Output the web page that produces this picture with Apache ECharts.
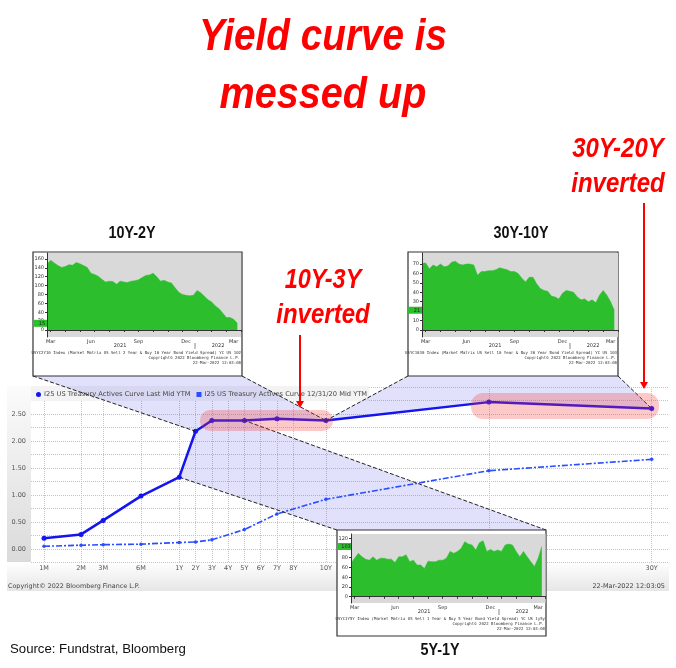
<!DOCTYPE html>
<html>
<head>
<meta charset="utf-8">
<style>
  html, body { margin: 0; padding: 0; background: #fff; }
  #main { width: 676px; height: 668px; }
</style>
<script src="https://cdn.jsdelivr.net/npm/echarts@6/dist/echarts.min.js"></script>
</head>
<body>
<div id="main"></div>
<script>
// treasury curve, main panel
const tenors = ['1M', '2M', '3M', '6M', '1Y', '2Y', '3Y', '4Y', '5Y', '6Y', '7Y', '8Y', '10Y', '20Y', '30Y']
const tenorScale = [-7.3, -5.03, -3.67, -1.35, 1, 2, 3, 4, 5, 6, 7, 8, 10, 20, 30]
const curveTenors = ['1M', '2M', '3M', '6M', '1Y', '2Y', '3Y', '5Y', '7Y', '10Y', '20Y', '30Y']
const lastMid = [0.20, 0.27, 0.53, 0.98, 1.33, 2.18, 2.38, 2.38, 2.41, 2.38, 2.72, 2.60]
const dec2020 = [0.05, 0.07, 0.08, 0.09, 0.12, 0.13, 0.17, 0.36, 0.65, 0.92, 1.45, 1.66]
const lastMidName = 'I25 US Treasury Actives Curve Last Mid YTM'
const dec2020Name = 'I25 US Treasury Actives Curve 12/31/20 Mid YTM'

// spreads in the three small charts, weekly
const weekLabels = ['', 'Mar', '', '', '', '', '', '', '', '', '', '', 'Jun', '', '', '', '', '', '', '', '', '', '', '', '', 'Sep', '', '', '', '', '', '', '', '', '', '', '', '', 'Dec', '', '', '', '', '', '', '', '', '', '', '', '', 'Mar', '', '']
const spread10y2y = [148, 157, 151, 145, 141, 143, 147, 146, 152, 149, 145, 141, 128, 125, 121, 114, 108, 110, 109, 103, 110, 108, 107, 110, 111, 113, 118, 123, 124, 128, 120, 110, 112, 108, 106, 95, 85, 80, 78, 77, 78, 89, 84, 76, 68, 63, 54, 48, 38, 28, 28, 24, 15]
const spread30y10y = [71, 71, 65, 69, 67, 70, 67, 68, 72, 73, 70, 69, 70, 70, 69, 58, 62, 62, 63, 63, 64, 66, 65, 64, 62, 62, 60, 55, 51, 56, 56, 49, 44, 42, 41, 36, 35, 33, 39, 42, 41, 40, 35, 32, 33, 30, 32, 29, 37, 42, 37, 30, 21]
const spread5y1y = [69, 79, 89, 82, 77, 75, 82, 75, 79, 79, 77, 77, 70, 82, 82, 86, 72, 75, 65, 65, 58, 73, 72, 72, 75, 75, 79, 93, 89, 93, 99, 113, 108, 106, 96, 111, 115, 93, 97, 93, 96, 93, 106, 108, 106, 93, 82, 93, 82, 72, 62, 79, 103]

const insets = [
  { name: '10Y-2Y', data: spread10y2y, box: [33, 252, 242, 376], plot: [47, 253, 241, 337], min: -15.8, max: 173.4,
    ticks: [0, 20, 40, 60, 80, 100, 120, 140, 160],
    note: 'USYC2Y10 Index (Market Matrix US Sell 2 Year & Buy 10 Year Bond Yield Spread) YC US 102' },
  { name: '30Y-10Y', data: spread30y10y, box: [408, 252, 618, 376], plot: [422, 253, 618, 337], min: -7.4, max: 81.7,
    ticks: [0, 10, 20, 30, 40, 50, 60, 70],
    note: 'USYC1030 Index (Market Matrix US Sell 10 Year & Buy 30 Year Bond Yield Spread) YC US 103' },
  { name: '5Y-1Y', data: spread5y1y, box: [337, 530, 546, 636], plot: [351, 534, 545.5, 603], min: -12.9, max: 128.7,
    ticks: [0, 20, 40, 60, 80, 100, 120],
    note: 'USYC1Y5Y Index (Market Matrix US Sell 1 Year & Buy 5 Year Bond Yield Spread) YC US 1y5y' }
]

const SANS = '"Liberation Sans", Arial, sans-serif'
const TERM = '"DejaVu Sans", sans-serif'
const MONO = '"DejaVu Sans Mono", monospace'
const GREEN = '#2DBE2D'
const GRIDLINE = { type: 'dotted', color: '#c4c4c4', width: 1 }

const chart = echarts.init(document.getElementById('main'), null, { renderer: 'canvas' })

const pos = t => tenorScale[tenors.indexOf(t)]
const grids = [{ left: 31, top: 387, width: 637, height: 175.5 }]
const xAxes = [{
  type: 'value', gridIndex: 0, min: -8.1, max: 31, z: 2,
  axisLine: { show: false },
  axisTick: { show: false, customValues: tenorScale },
  axisLabel: {
    customValues: tenorScale, margin: 2, color: '#555', fontFamily: TERM, fontSize: 6.5, verticalAlign: 'top',
    formatter: v => tenors[tenorScale.indexOf(v)]
  },
  splitLine: { show: true, lineStyle: GRIDLINE }
}]
const yAxes = [{
  type: 'value', gridIndex: 0, min: -0.25, max: 3, interval: 0.25, z: 2,
  axisLine: { show: false },
  axisTick: { show: false },
  axisLabel: {
    margin: 5, color: '#555', fontFamily: TERM, fontSize: 6.5,
    formatter: v => (v >= 0 && v <= 2.5 && Math.abs(v * 2 - Math.round(v * 2)) < 1e-6) ? v.toFixed(2) : ''
  },
  splitLine: { show: true, lineStyle: GRIDLINE }
}]
const series = [{
  name: lastMidName, type: 'line', xAxisIndex: 0, yAxisIndex: 0, z: 6,
  data: lastMid.map((v, i) => [pos(curveTenors[i]), v]),
  symbol: 'circle', symbolSize: 5, color: '#1414F0', lineStyle: { width: 2.5 }
}, {
  name: dec2020Name, type: 'line', xAxisIndex: 0, yAxisIndex: 0, z: 6,
  data: dec2020.map((v, i) => [pos(curveTenors[i]), v]),
  symbol: 'circle', symbolSize: 3.5, color: '#2A4DFF', lineStyle: { width: 1.6, type: [6, 2, 2, 2] }
}]

insets.forEach((ins, k) => {
  const n = k + 1, [l, t, r, b] = ins.plot
  grids.push({ left: l, top: t, width: r - l, height: b - t, z: 31, show: true, backgroundColor: '#D9D9D9', borderWidth: 0 })
  xAxes.push({
    type: 'category', gridIndex: n, data: weekLabels, boundaryGap: false, z: 33,
    axisLine: { lineStyle: { color: '#333', width: 1 } },
    axisTick: { interval: i => i % 4 === 1, length: 2, lineStyle: { color: '#333' } },
    axisLabel: { interval: 0, margin: 2, fontSize: 5, color: '#333', fontFamily: TERM },
    splitLine: { show: false }
  })
  yAxes.push({
    type: 'value', gridIndex: n, min: ins.min, max: ins.max, z: 33,
    axisLine: { show: true, lineStyle: { color: '#333', width: 1 } },
    axisTick: { show: true, length: 2, customValues: ins.ticks, lineStyle: { color: '#333' } },
    axisLabel: { customValues: ins.ticks, margin: 3, fontSize: 5, color: '#333', fontFamily: TERM },
    splitLine: { show: false }
  })
  series.push({
    name: ins.name, type: 'line', xAxisIndex: n, yAxisIndex: n, z: 32,
    data: ins.data, showSymbol: false, symbol: 'none', color: GREEN,
    lineStyle: { width: 0.5, color: GREEN }, areaStyle: { color: GREEN, opacity: 1, origin: 0 }
  })
})

chart.setOption({
  animation: false,
  backgroundColor: '#fff',
  legend: {
    left: 36, top: 391, itemWidth: 5, itemHeight: 5, itemGap: 6, z: 8, padding: 0,
    textStyle: { color: '#444', fontFamily: TERM, fontSize: 6.7, padding: [0, 0, 0, -2] },
    data: [{ name: lastMidName, icon: 'circle' }, { name: dec2020Name, icon: 'rect' }]
  },
  grid: grids, xAxis: xAxes, yAxis: yAxes, series
})

// overlays: panels, wedges from the small charts to the curve, highlights, labels
const px = (t, vals) => chart.convertToPixel({ seriesIndex: 0 }, [pos(t), vals[curveTenors.indexOf(t)]])
const onCurve = t => px(t, lastMid)
const g = []

const rect = (x0, y0, x1, y1, fill, z, r) => g.push({
  type: 'rect', silent: true, z, shape: { x: x0, y: y0, width: x1 - x0, height: y1 - y0, r: r || 0 }, style: { fill }
})
const vgrad = (a, b) => new echarts.graphic.LinearGradient(0, 0, 0, 1, [{ offset: 0, color: a }, { offset: 1, color: b }])
rect(7, 386, 31, 562, vgrad('#FBFBFB', '#DADADA'), 1)
rect(7, 562, 669, 591, vgrad('#FFFFFF', '#E6E6E6'), 1)
rect(31, 386, 369, 401, '#F3F3F3', 3)

const text = (s, x, y, o) => g.push({
  type: 'text', silent: true, z: o.z || 20, x, y, scaleX: o.scaleX || 1,
  style: {
    text: s, fill: o.fill, align: o.align || 'center', verticalAlign: 'middle',
    font: `${o.style || ''} ${o.size}px ${o.family || SANS}`
  }
})
text('Copyright\u00A9 2022 Bloomberg Finance L.P.', 8, 586, { fill: '#444', size: 6.4, family: TERM, align: 'left', z: 2 })
text('22-Mar-2022 12:03:05', 665, 586, { fill: '#444', size: 6.5, family: TERM, align: 'right', z: 2 })

const wedge = pts => g.push({
  type: 'polygon', silent: true, z: 5, shape: { points: pts }, style: { fill: 'rgba(90,90,240,0.18)' }
})
const dash = (a, b) => g.push({
  type: 'line', silent: true, z: 7, shape: { x1: a[0], y1: a[1], x2: b[0], y2: b[1] },
  style: { stroke: '#222', lineWidth: 1, lineDash: [4, 2] }
})
const [a, b, c] = insets.map(i => i.box)
wedge([[a[0], a[3]], [a[2], a[3]], ...['10Y', '7Y', '5Y', '3Y', '2Y'].map(onCurve)])
dash([a[0], a[3]], onCurve('2Y'))
dash([a[2], a[3]], onCurve('10Y'))
wedge([[b[0], b[3]], [b[2], b[3]], ...['30Y', '20Y', '10Y'].map(onCurve)])
dash([b[0], b[3]], onCurve('10Y'))
dash([b[2], b[3]], onCurve('30Y'))
wedge([[c[2], c[1]], [c[0], c[1]], ...['1Y', '2Y', '3Y', '5Y'].map(onCurve)])
dash([c[0], c[1]], onCurve('1Y'))
dash([c[2], c[1]], onCurve('5Y'))

// pink highlights sit over the line
rect(200, 410, 333, 431, 'rgba(245,50,50,0.27)', 9, 10)
rect(471, 393, 659, 419, 'rgba(245,50,50,0.27)', 9, 12)

// small chart frames and captions
insets.forEach((ins, k) => {
  const [x0, y0, x1, y1] = ins.box, [l, , r, b] = ins.plot
  g.push({
    type: 'rect', silent: true, z: 30, shape: { x: x0, y: y0, width: x1 - x0, height: y1 - y0 },
    style: { fill: '#fff', stroke: '#333', lineWidth: 1.2 }
  })
  const f = { fill: '#333', size: 5, family: TERM, z: 34 }
  text('2021', l + 73, b + 9, f)
  text('2022', l + 171, b + 9, f)
  g.push({ type: 'line', silent: true, z: 34, shape: { x1: l + 148, y1: b + 6, x2: l + 148, y2: b + 12 }, style: { stroke: '#555', lineWidth: 0.7 } })
  const m = { fill: '#333', size: 4, family: MONO, align: 'right', z: 34 }
  text(ins.note, x1 - 1, b + 15.5, m)
  text('Copyright\u00A9 2022 Bloomberg Finance L.P.', x1 - 2, b + 21, m)
  text('22-Mar-2022 12:03:08', x1 - 1, b + 26, m)
  // last value tag on the axis
  const last = ins.data[ins.data.length - 1]
  const yy = chart.convertToPixel({ seriesIndex: k + 2 }, [0, last])[1]
  rect(x0, yy - 3.5, l, yy + 3.5, GREEN, 34)
  text(String(last), x0 + 9, yy, { fill: '#222', size: 5, family: TERM, z: 35 })
})

// headings
const head = (s, x, y, size, fill, scaleX) => text(s, x, y, { fill, size, style: fill === '#111' ? 'bold' : 'italic bold', scaleX })
head('Yield curve is', 323, 38, 45, '#FF0000', 0.86)
head('messed up', 323, 96, 45, '#FF0000', 0.88)
head('10Y-2Y', 132, 233, 16.5, '#111', 0.87)
head('30Y-10Y', 521, 233, 16.5, '#111', 0.87)
head('5Y-1Y', 440, 650, 16.5, '#111', 0.87)
head('10Y-3Y', 323, 281, 27, '#FF0000', 0.87)
head('inverted', 323, 316, 27, '#FF0000', 0.89)
head('30Y-20Y', 618, 150, 27, '#FF0000', 0.89)
head('inverted', 618, 185, 27, '#FF0000', 0.89)
text('Source: Fundstrat, Bloomberg', 10, 649, { fill: '#111', size: 13.2, align: 'left' })

// red arrows
const arrow = (x, y0, y1) => {
  g.push({ type: 'line', silent: true, z: 15, shape: { x1: x, y1: y0, x2: x, y2: y1 - 6 }, style: { stroke: '#FF0000', lineWidth: 2 } })
  g.push({ type: 'polygon', silent: true, z: 15, shape: { points: [[x - 4, y1 - 7], [x + 4, y1 - 7], [x, y1]] }, style: { fill: '#FF0000' } })
}
arrow(300, 335, 408)
arrow(644, 203, 389)

chart.setOption({ graphic: { elements: g } })
</script>
</body>
</html>
